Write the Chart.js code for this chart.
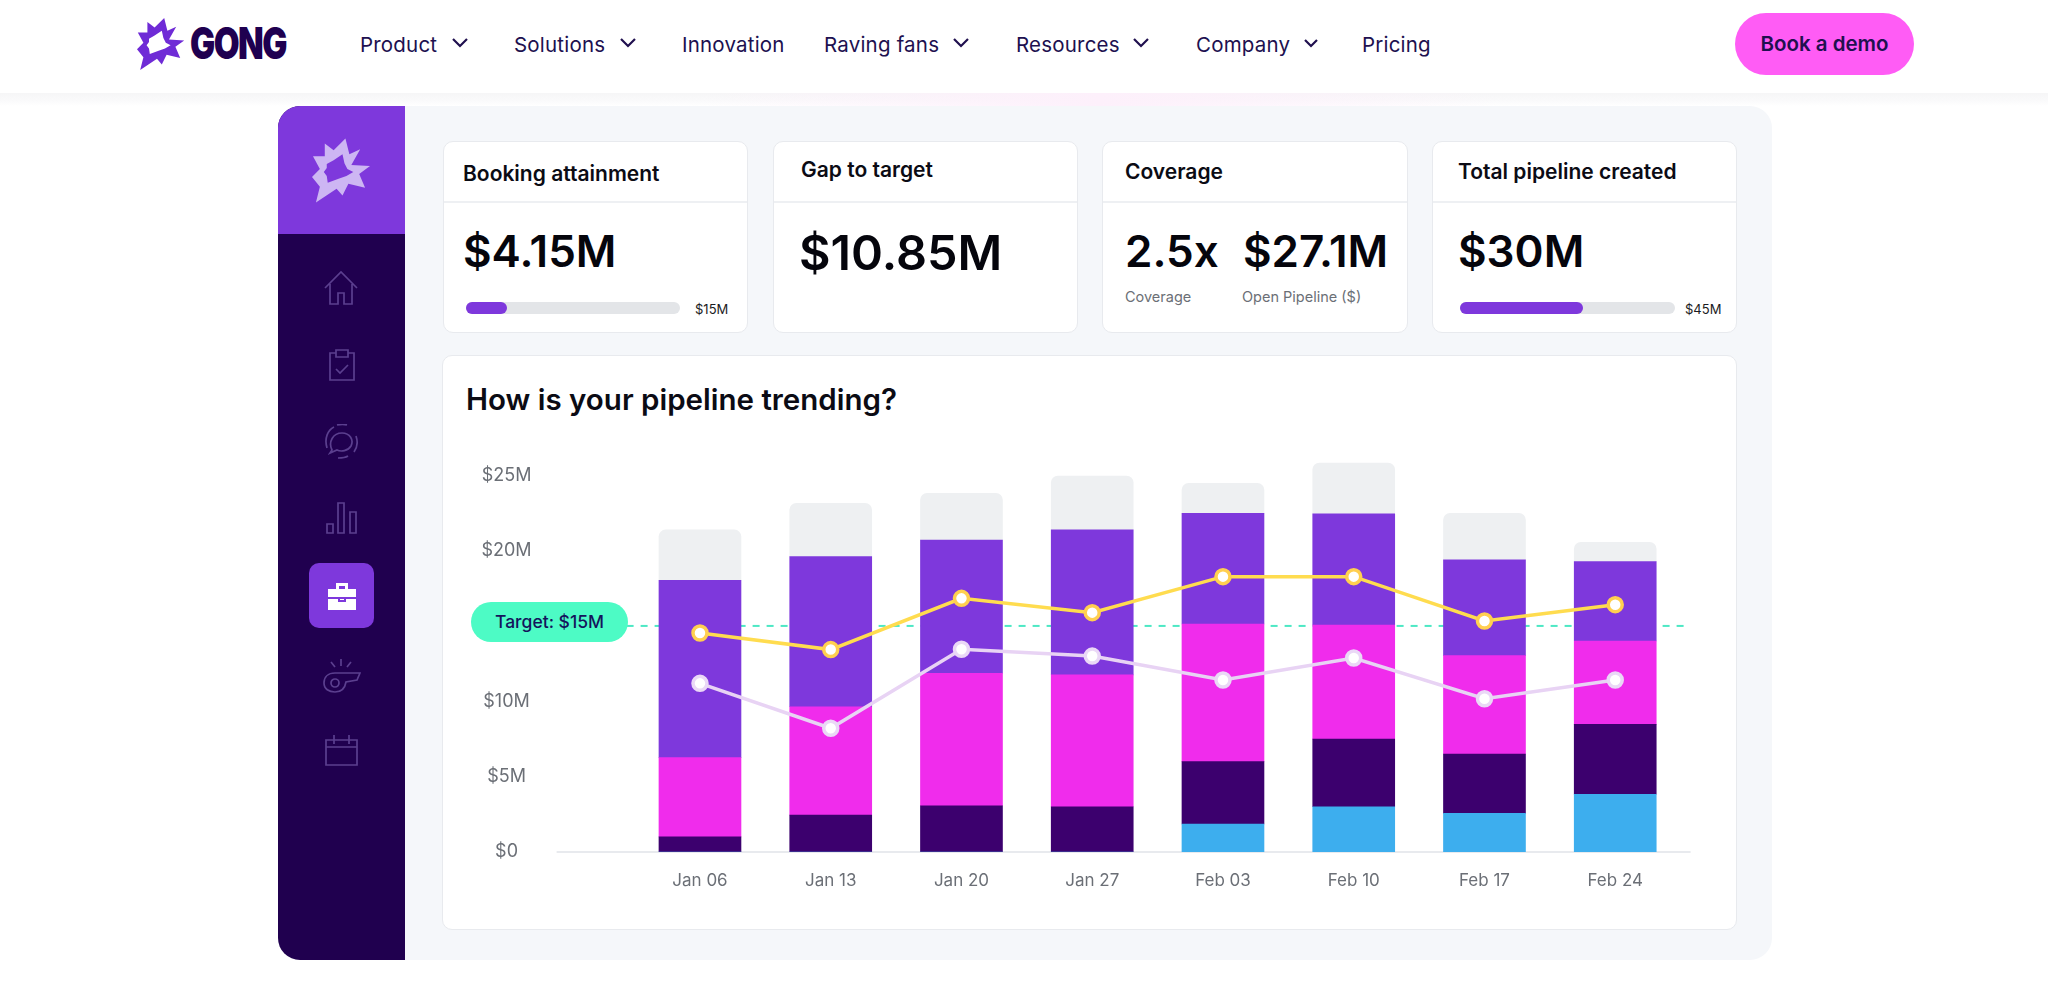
<!DOCTYPE html>
<html lang="en">
<head>
<meta charset="utf-8">
<title>How is your pipeline trending?</title>
<script src="https://cdn.jsdelivr.net/npm/chart.js@4"></script>
<style>
  * { box-sizing: border-box; margin: 0; padding: 0; }
  html, body { width: 2048px; height: 981px; overflow: hidden; background: #fff; font-family: Inter, "Noto Sans", sans-serif; }
  .abs { position: absolute; white-space: nowrap; }

  /* top navigation */
  .navfade { left: 0; top: 93px; width: 2048px; height: 13px; background: linear-gradient(180deg, #f6f6f7 0%, #fafafb 60%, #ffffff 100%); }
  .navpink { left: 700px; top: 93px; width: 800px; height: 13px; background: linear-gradient(90deg, rgba(253,236,250,0) 0%, #fdf0fb 50%, rgba(253,236,250,0) 100%); }
  .navitem { top: 32px; font-size: 20.5px; line-height: 26px; color: #20104f; letter-spacing: .2px; }
  .chev { position: absolute; top: 37px; width: 18px; height: 12px; fill: none; stroke: #20104f; stroke-width: 2.2; }
  .wordmark { left: 190px; top: 16px; font-size: 44px; line-height: 54px; font-weight: 900; color: #1f0050; letter-spacing: -2px; transform: scaleX(.76); transform-origin: left center; }
  .demo { left: 1735px; top: 13px; width: 179px; height: 62px; border-radius: 31px; background: #ff5cf5; color: #20104f; font-size: 20.5px; font-weight: 600; line-height: 62px; text-align: center; }

  /* dashboard frame */
  .panel { left: 278px; top: 106px; width: 1494px; height: 854px; background: #f5f7fa; border-radius: 22px; }
  .side { left: 278px; top: 106px; width: 127px; height: 854px; background: #20004f; border-radius: 22px 0 0 22px; overflow: hidden; }
  .sidehead { left: 0; top: 0; width: 127px; height: 128px; background: #7e38dc; }
  .active { left: 309px; top: 563px; width: 65px; height: 65px; background: #7e38dc; border-radius: 10px; }
  .icon { position: absolute; fill: none; stroke: #5b3f8f; stroke-width: 1.7; }

  /* KPI cards */
  .card { background: #fff; border: 1px solid #e8eaee; border-radius: 10px; }
  .divider { height: 2px; background: #eef0f3; }
  .ktitle { font-size: 21px; font-weight: 600; line-height: 26px; color: #0b0b14; }
  .kbig { font-size: 44px; font-weight: 600; line-height: 52px; color: #05050c; }
  .ksmall { font-size: 14.5px; line-height: 18px; color: #6b6f76; }
  .track { height: 12px; background: #e3e5e8; border-radius: 6px; }
  .fill { height: 12px; background: #7e38dc; border-radius: 6px; }
  .kmax { font-size: 13px; line-height: 16px; color: #1b1b22; }

  /* chart card */
  .charttitle { left: 466px; top: 379px; font-size: 29.5px; font-weight: 600; line-height: 40px; color: #0b0b14; }
  #pipeline-chart { position: absolute; left: 444px; top: 360px; }
  .pill { left: 471px; top: 602px; width: 157px; height: 40px; border-radius: 20px; background: #4dfbc5; color: #14145c; font-size: 17.5px; font-weight: 500; line-height: 40px; text-align: center; }
</style>
</head>
<body>

<!-- top navigation -->
<div class="abs navfade"></div>
<div class="abs navpink"></div>
<svg class="abs" style="left:136px;top:18px" width="50" height="52" viewBox="0 0 60 65"><path fill="#6f2bd6" fill-rule="evenodd" d="M13 5L22 12L34 0L38 16L49 11L40 27L59 28L48 36L54 50L37 46L31 58L25 51L4 65L8 49L0 39L8 31L1 18L13 18ZM15 26L22 22L31 16L33 25L36 31L42 34L35 38L27 41L16 45L15 38L12 34L15 30Z"/></svg>
<div class="abs wordmark">GONG</div>

<div class="abs navitem" style="left:360px">Product</div>
<svg class="chev" style="left:451px" viewBox="0 0 18 12"><path d="M2 2L9 9L16 2"/></svg>
<div class="abs navitem" style="left:514px">Solutions</div>
<svg class="chev" style="left:619px" viewBox="0 0 18 12"><path d="M2 2L9 9L16 2"/></svg>
<div class="abs navitem" style="left:682px">Innovation</div>
<div class="abs navitem" style="left:824px">Raving fans</div>
<svg class="chev" style="left:952px" viewBox="0 0 18 12"><path d="M2 2L9 9L16 2"/></svg>
<div class="abs navitem" style="left:1016px">Resources</div>
<svg class="chev" style="left:1132px" viewBox="0 0 18 12"><path d="M2 2L9 9L16 2"/></svg>
<div class="abs navitem" style="left:1196px">Company</div>
<svg class="chev" style="left:1302px" viewBox="0 0 18 12"><path d="M3 3L9 9L15 3"/></svg>
<div class="abs navitem" style="left:1362px">Pricing</div>
<div class="abs demo">Book a demo</div>

<!-- dashboard frame -->
<div class="abs panel"></div>
<div class="abs side"><div class="abs sidehead"></div></div>
<svg class="abs" style="left:312px;top:138px" width="59" height="65" viewBox="0 0 60 65"><path fill="#cdb6f3" fill-rule="evenodd" d="M13 5L22 12L34 0L38 16L49 11L40 27L59 28L48 36L54 50L37 46L31 58L25 51L4 65L8 49L0 39L8 31L1 18L13 18ZM15 26L22 22L31 16L33 25L36 31L42 34L35 38L27 41L16 45L15 38L12 34L15 30Z"/></svg>
<div class="abs active"></div>

<!-- sidebar icons -->
<svg class="icon" style="left:324px;top:270px" width="34" height="36" viewBox="0 0 34 36"><path d="M1 18L17 2L33 18M6 14V34H14V23H20V34H28V14"/></svg>
<svg class="icon" style="left:328px;top:348px" width="28" height="34" viewBox="0 0 28 34"><path d="M8 5H2V32H26V5H20M8 2H20V9H8ZM8 21L12 25L20 17"/></svg>
<svg class="icon" style="left:324px;top:424px" width="34" height="36" viewBox="0 0 34 36"><path d="M8 26C4 18 9 9 18 9C26 9 30 16 27 22C24 27 17 28 13 26L6 29ZM3 24C0 14 4 6 10 3M13 1C17 0 20 0 23 1M32 12C34 18 33 24 30 28M24 32C21 34 17 34 14 34"/></svg>
<svg class="icon" style="left:326px;top:502px" width="32" height="32" viewBox="0 0 32 32"><path d="M1 22H7V31H1ZM12 1H18V31H12ZM24 10H30V31H24Z"/></svg>
<svg class="abs" style="left:326px;top:580px" width="32" height="32" viewBox="0 0 32 32"><path fill="#fff" fill-rule="evenodd" d="M10 3H22V9H30V17H2V9H10ZM13 6V9H19V6ZM2 19H12V22H20V19H30V30H2ZM14 19H18V20H14Z"/></svg>
<svg class="icon" style="left:323px;top:658px" width="38" height="36" viewBox="0 0 38 36"><path d="M18 1V8M8 4L12 9M28 4L24 9M37 15H12C5 15 1 19 1 25C1 31 6 34 12 34C18 34 22 30 23 24L34 22ZM12 21A4 4 0 1 0 12.01 29A4 4 0 1 0 12 21Z"/></svg>
<svg class="icon" style="left:325px;top:734px" width="33" height="32" viewBox="0 0 33 32"><path d="M1 6H32V31H1ZM1 13H32M9 1V10M24 1V10"/></svg>

<!-- KPI cards -->
<div class="abs card" style="left:443px;top:141px;width:305px;height:192px"></div>
<div class="abs divider" style="left:444px;top:201px;width:303px"></div>
<div class="abs ktitle" style="left:463px;top:161px">Booking attainment</div>
<div class="abs kbig" style="left:463px;top:225px">$4.15M</div>
<div class="abs track" style="left:466px;top:302px;width:214px"></div>
<div class="abs fill" style="left:466px;top:302px;width:41px"></div>
<div class="abs kmax" style="left:695px;top:301px">$15M</div>

<div class="abs card" style="left:773px;top:141px;width:305px;height:192px"></div>
<div class="abs divider" style="left:774px;top:201px;width:303px"></div>
<div class="abs ktitle" style="left:801px;top:157px">Gap to target</div>
<div class="abs kbig" style="left:799px;top:227px;font-size:48.5px">$10.85M</div>

<div class="abs card" style="left:1102px;top:141px;width:306px;height:192px"></div>
<div class="abs divider" style="left:1103px;top:201px;width:304px"></div>
<div class="abs ktitle" style="left:1125px;top:159px">Coverage</div>
<div class="abs kbig" style="left:1125px;top:225px">2.5x</div>
<div class="abs kbig" style="left:1243px;top:225px">$27.1M</div>
<div class="abs ksmall" style="left:1125px;top:288px">Coverage</div>
<div class="abs ksmall" style="left:1242px;top:288px">Open Pipeline ($)</div>

<div class="abs card" style="left:1432px;top:141px;width:305px;height:192px"></div>
<div class="abs divider" style="left:1433px;top:201px;width:303px"></div>
<div class="abs ktitle" style="left:1458px;top:159px">Total pipeline created</div>
<div class="abs kbig" style="left:1458px;top:225px">$30M</div>
<div class="abs track" style="left:1460px;top:302px;width:215px"></div>
<div class="abs fill" style="left:1460px;top:302px;width:123px"></div>
<div class="abs kmax" style="left:1685px;top:301px">$45M</div>

<!-- chart card -->
<div class="abs card" style="left:442px;top:355px;width:1295px;height:575px"></div>
<div class="abs charttitle">How is your pipeline trending?</div>
<canvas id="pipeline-chart" width="1290" height="560"></canvas>
<div class="abs pill">Target: $15M</div>

<script>
// ---- data (in $M) ----
const weeks = ["Jan 06", "Jan 13", "Jan 20", "Jan 27", "Feb 03", "Feb 10", "Feb 17", "Feb 24"];
const yTicks = [0, 5, 10, 15, 20, 25];
const yTickLabels = ["$0", "$5M", "$10M", "", "$20M", "$25M"];
const target = 15;

const blueBar    = [0, 0, 0, 0, 1.86, 3.0, 2.56, 3.83];
const darkBar    = [1.0, 2.45, 3.07, 3.0, 4.14, 4.5, 3.94, 4.64];
const magentaBar = [5.26, 7.19, 8.79, 8.75, 9.13, 7.56, 6.53, 5.53];
const purpleBar  = [11.77, 9.96, 8.84, 9.62, 7.34, 7.37, 6.35, 5.27];
const greyBar    = [3.34, 3.54, 3.1, 3.58, 1.99, 3.37, 3.09, 1.28];

const yellowLine = [14.53, 13.43, 16.83, 15.88, 18.27, 18.27, 15.33, 16.41];
const paleLine   = [11.19, 8.21, 13.45, 13.0, 11.41, 12.87, 10.17, 11.41];

// baseline and dashed target line, both wider than the category band
const guideLines = {
  id: "guideLines",
  beforeDatasetsDraw(chart) {
    const { ctx, chartArea, scales } = chart;
    const y0 = scales.y.getPixelForValue(0);
    const yT = scales.y.getPixelForValue(target);
    ctx.save();
    ctx.strokeStyle = "#e8eaee";
    ctx.lineWidth = 2;
    ctx.beginPath();
    ctx.moveTo(chartArea.left - 78, y0);
    ctx.lineTo(chartArea.right + 10, y0);
    ctx.stroke();
    ctx.strokeStyle = "#4de8c4";
    ctx.setLineDash([7, 7]);
    ctx.beginPath();
    ctx.moveTo(chartArea.left - 8, yT);
    ctx.lineTo(chartArea.right + 10, yT);
    ctx.stroke();
    ctx.restore();
  },
};

function barSet(values, color, radius) {
  return {
    type: "bar",
    data: values,
    backgroundColor: color,
    barThickness: 82,
    borderRadius: radius || 0,
    borderSkipped: false,
    order: 2,
  };
}

function lineSet(values, lineColor, dotColor, stackName) {
  return {
    type: "line",
    data: values,
    stack: stackName,
    borderColor: lineColor,
    borderWidth: 3.5,
    tension: 0,
    pointRadius: 7,
    pointBorderWidth: 3.5,
    pointBackgroundColor: "#ffffff",
    pointBorderColor: dotColor,
    order: 1,
  };
}

new Chart(document.getElementById("pipeline-chart"), {
  data: {
    labels: weeks,
    datasets: [
      barSet(blueBar, "#3daeee"),
      barSet(darkBar, "#3c006e"),
      barSet(magentaBar, "#f02cec"),
      barSet(purpleBar, "#7e38dc"),
      barSet(greyBar, "#eef0f2", { topLeft: 7, topRight: 7 }),
      lineSet(yellowLine, "#ffdc4f", "#ffcf50", "yellow"),
      lineSet(paleLine, "#e8d3f4", "#ead8f6", "pale"),
    ],
  },
  options: {
    responsive: false,
    animation: false,
    layout: { padding: { top: 92.6, right: 53.4, bottom: 0, left: 0 } },
    plugins: { legend: { display: false }, tooltip: { enabled: false } },
    scales: {
      x: {
        stacked: true,
        afterFit: (scale) => { scale.height = 68; },
        grid: { display: false },
        border: { display: false },
        ticks: { color: "#6b6f76", font: { family: "Inter", size: 17 }, padding: 10.5, maxRotation: 0 },
      },
      y: {
        stacked: true,
        min: 0,
        max: 26.5,
        afterBuildTicks: (scale) => { scale.ticks = yTicks.map((v) => ({ value: v })); },
        afterFit: (scale) => {
          scale.width = 190.6;
          // the wide tick padding must not leak into the vertical layout
          scale.paddingTop = 0;
          scale.paddingBottom = 0;
        },
        grid: { display: false },
        border: { display: false },
        ticks: {
          color: "#6b6f76",
          font: { family: "Inter", size: 18 },
          padding: 95,
          crossAlign: "center",
          callback: (value, index) => yTickLabels[index],
        },
      },
    },
  },
  plugins: [guideLines],
});
</script>
</body>
</html>
